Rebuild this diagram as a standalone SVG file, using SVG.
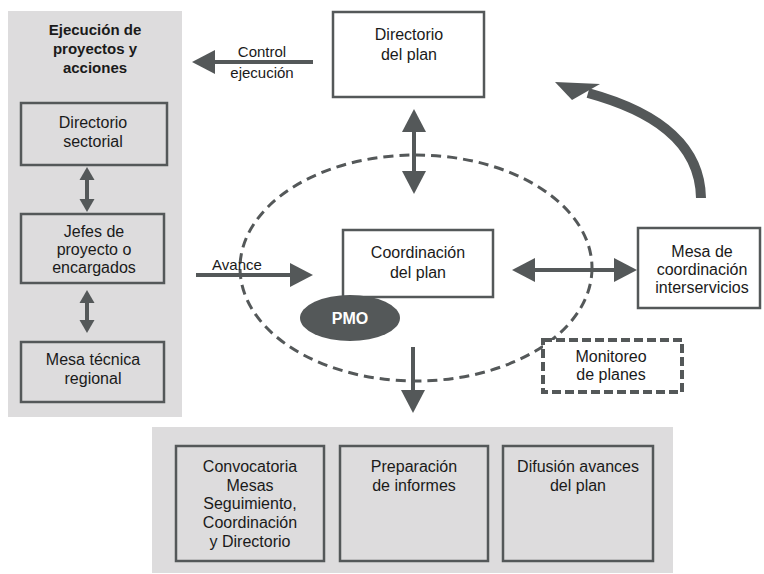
<svg xmlns="http://www.w3.org/2000/svg" width="764" height="574" viewBox="0 0 764 574">
<defs>
<style>
.panel{fill:#dddcdd;stroke:none}
.box{fill:#ffffff;stroke:#545859;stroke-width:2.5}
.gbox{fill:#dddcdd;stroke:#545859;stroke-width:2.5}
.dbox{fill:#ffffff;stroke:#545859;stroke-width:4;stroke-dasharray:9 4}
.t{font-family:"Liberation Sans",Arial,sans-serif;font-size:16px;fill:#1a1a1a;text-anchor:middle}
.lbl{font-family:"Liberation Sans",Arial,sans-serif;font-size:15px;fill:#1a1a1a;text-anchor:middle}
.title{font-family:"Liberation Sans",Arial,sans-serif;font-size:15px;font-weight:bold;fill:#1a1a1a;text-anchor:middle}
.pmo{font-family:"Liberation Sans",Arial,sans-serif;font-size:16px;font-weight:bold;fill:#ffffff;text-anchor:middle}
.ln{stroke:#545859;stroke-width:4;fill:none}
.big{marker-end:url(#head)}
.both{marker-start:url(#head);marker-end:url(#head)}
.sboth{marker-start:url(#shead);marker-end:url(#shead)}
</style>
<marker id="head" markerUnits="userSpaceOnUse" markerWidth="24" markerHeight="26" refX="0" refY="12" orient="auto-start-reverse" overflow="visible">
<path d="M0,0 L23,12 L0,24 z" fill="#545859"/>
</marker>
<marker id="shead" markerUnits="userSpaceOnUse" markerWidth="14" markerHeight="16" refX="0" refY="7.5" orient="auto-start-reverse" overflow="visible">
<path d="M0,0 L13,7.5 L0,15 z" fill="#545859"/>
</marker>
</defs>

<rect class="panel" x="8" y="11" width="174" height="406"/>
<rect class="panel" x="152" y="427" width="521" height="146"/>

<g id="connectors">
<ellipse cx="416" cy="268" rx="176" ry="113" fill="none" stroke="#545859" stroke-width="3" stroke-dasharray="10 6"/>
<line class="ln big" x1="313" y1="62" x2="215" y2="62"/>
<line class="ln both" x1="414" y1="132" x2="414" y2="171"/>
<line class="ln big" x1="196" y1="275" x2="290" y2="275"/>
<line class="ln big" x1="413" y1="347" x2="413" y2="390"/>
<line class="ln both" x1="535" y1="270" x2="614" y2="270"/>
<line class="ln sboth" x1="87" y1="180" x2="87" y2="199"/>
<line class="ln sboth" x1="87" y1="303" x2="87" y2="320"/>
<path d="M701,198 C700,140 650,110 588,93" fill="none" stroke="#545859" stroke-width="10"/>
<polygon points="555,82 572,100 600,84" fill="#545859"/>
<text class="lbl" x="262" y="57">Control</text>
<text class="lbl" x="262" y="78">ejecución</text>
<text class="lbl" x="237" y="270">Avance</text>
</g>

<g id="title">
<text class="title" x="95" y="35">Ejecución de</text>
<text class="title" x="95" y="54">proyectos y</text>
<text class="title" x="95" y="73">acciones</text>
</g>

<g id="directorio-sectorial">
<rect class="gbox" x="21" y="103" width="146" height="62"/>
<text class="t" x="93" y="128">Directorio</text>
<text class="t" x="93" y="147">sectorial</text>
</g>

<g id="jefes-proyecto">
<rect class="gbox" x="21" y="214" width="143" height="69"/>
<text class="t" x="94" y="237">Jefes de</text>
<text class="t" x="94" y="255">proyecto o</text>
<text class="t" x="94" y="273">encargados</text>
</g>

<g id="mesa-tecnica">
<rect class="gbox" x="21" y="342" width="143" height="60"/>
<text class="t" x="93" y="365">Mesa técnica</text>
<text class="t" x="93" y="384">regional</text>
</g>

<g id="directorio-plan">
<rect class="box" x="333" y="12" width="151" height="85"/>
<text class="t" x="409" y="40">Directorio</text>
<text class="t" x="409" y="60">del plan</text>
</g>

<g id="coordinacion-plan">
<rect class="box" x="343" y="230" width="150" height="67"/>
<text class="t" x="418" y="258">Coordinación</text>
<text class="t" x="418" y="278">del plan</text>
</g>

<g id="pmo">
<ellipse cx="350" cy="318" rx="50" ry="23" fill="#545859"/>
<text class="pmo" x="350" y="324">PMO</text>
</g>

<g id="mesa-coordinacion">
<rect class="box" x="638" y="228" width="122" height="80"/>
<text class="t" x="702" y="257">Mesa de</text>
<text class="t" x="702" y="275">coordinación</text>
<text class="t" x="702" y="293">interservicios</text>
</g>

<g id="monitoreo">
<rect class="dbox" x="543" y="340" width="139" height="52"/>
<text class="t" x="611" y="362">Monitoreo</text>
<text class="t" x="611" y="380">de planes</text>
</g>

<g id="convocatoria">
<rect class="gbox" x="176" y="446" width="148" height="115"/>
<text class="t" x="250" y="472">Convocatoria</text>
<text class="t" x="250" y="491">Mesas</text>
<text class="t" x="250" y="509">Seguimiento,</text>
<text class="t" x="250" y="528">Coordinación</text>
<text class="t" x="250" y="547">y Directorio</text>
</g>

<g id="preparacion">
<rect class="gbox" x="340" y="446" width="148" height="115"/>
<text class="t" x="414" y="472">Preparación</text>
<text class="t" x="414" y="491">de informes</text>
</g>

<g id="difusion">
<rect class="gbox" x="503" y="446" width="150" height="115"/>
<text class="t" x="578" y="472">Difusión avances</text>
<text class="t" x="578" y="491">del plan</text>
</g>
</svg>
